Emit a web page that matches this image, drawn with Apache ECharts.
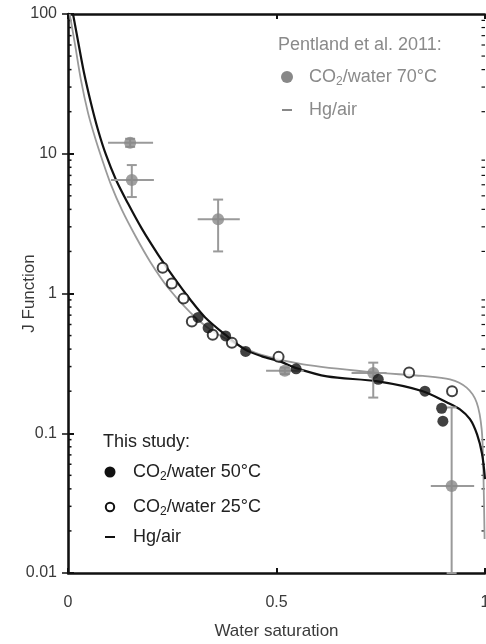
<!DOCTYPE html>
<html><head><meta charset="utf-8">
<script src="https://cdn.jsdelivr.net/npm/echarts@6/dist/echarts.min.js"></script>
<style>html,body{margin:0;padding:0;background:#fff}#c{width:486px;height:644px}</style>
</head><body><div id="c"></div>
<script>
// ---- data ----
const xTickValues = [0, 0.5, 1];
const yTickLabels = ['0.01', '0.1', '1', '10', '100'];

// This study, CO2/water 50°C (filled)
const s50Sw = [0.312, 0.336, 0.378, 0.426, 0.547, 0.744, 0.856, 0.896, 0.899];
const s50J  = [0.674, 0.568, 0.497, 0.385, 0.289, 0.243, 0.200, 0.151, 0.122];
// This study, CO2/water 25°C (open)
const s25Sw = [0.227, 0.249, 0.277, 0.297, 0.347, 0.393, 0.505, 0.818, 0.921];
const s25J  = [1.53, 1.18, 0.921, 0.631, 0.506, 0.444, 0.352, 0.272, 0.200];
// This study Hg/air curve
const hgSw = [0.012, 0.024, 0.038, 0.055, 0.072, 0.091, 0.115, 0.144, 0.177, 0.216, 0.257, 0.293, 0.329, 0.376, 0.424, 0.465, 0.508, 0.549, 0.621, 0.743, 0.851, 0.909, 0.940, 0.964, 0.981, 0.993, 1.0];
const hgJ  = [100, 64.1, 38.5, 23.1, 14.8, 9.84, 6.52, 4.40, 2.91, 1.90, 1.26, 0.906, 0.674, 0.510, 0.398, 0.355, 0.327, 0.291, 0.255, 0.235, 0.200, 0.166, 0.148, 0.126, 0.098, 0.071, 0.047];
// Pentland et al. 2011 Hg/air curve
const pHgSw = [0.004, 0.017, 0.031, 0.048, 0.065, 0.082, 0.103, 0.129, 0.161, 0.197, 0.240, 0.293, 0.341, 0.400, 0.460, 0.564, 0.731, 0.851, 0.916, 0.956, 0.980, 0.992, 0.996, 0.999];
const pHgJ  = [100, 60.1, 33.8, 19.6, 13.0, 9.06, 6.01, 3.98, 2.60, 1.69, 1.10, 0.732, 0.553, 0.44, 0.367, 0.311, 0.273, 0.257, 0.243, 0.212, 0.166, 0.107, 0.055, 0.0175];
// Pentland et al. 2011 CO2/water 70°C with error bars
const pSw   = [0.149, 0.153, 0.360, 0.520, 0.732, 0.920];
const pJ    = [12.0, 6.5, 3.4, 0.28, 0.27, 0.042];
const pSwLo = [0.096, 0.103, 0.311, 0.475, 0.680, 0.870];
const pSwHi = [0.204, 0.206, 0.412, 0.565, 0.764, 0.974];
const pJLo  = [11.2, 4.9, 2.0, 0.265, 0.18, 0.01];
const pJHi  = [12.8, 8.3, 4.7, 0.295, 0.32, 0.153];

// ---- build ----
const FONT = '"Liberation Sans", Arial, sans-serif';
const zip = (a, b) => a.map((v, i) => [v, b[i]]);
const minorTicks = [];
for (let e = -2; e < 2; e++) for (let m = 2; m <= 9; m++) minorTicks.push([0, m * Math.pow(10, e)]);

const chart = echarts.init(document.getElementById('c'), null, {renderer: 'canvas'});
const gray = '#8a8a8a';
const axisTextColor = '#3a3a3a';

const option = {
  animation: false,
  backgroundColor: '#fff',
  grid: {left: 68, right: 1, top: 14, bottom: 71, containLabel: false, outerBoundsMode: 'none'},
  xAxis: [{
    type: 'value', min: 0, max: 1, interval: 0.5, position: 'bottom',
    name: 'Water saturation', nameLocation: 'middle', nameGap: 50, nameMoveOverlap: false,
    nameTextStyle: {fontFamily: FONT, fontSize: 17, color: axisTextColor},
    axisLine: {show: true, lineStyle: {color: '#111', width: 2.5}},
    axisTick: {show: true, inside: true, length: 5, lineStyle: {color: '#111', width: 2}},
    axisLabel: {margin: 22, fontFamily: FONT, fontSize: 16, color: axisTextColor, hideOverlap: false,
      formatter: v => (xTickValues.indexOf(v) >= 0 ? String(v) : '')},
    splitLine: {show: false}
  }, {
    type: 'value', min: 0, max: 1, interval: 0.5, position: 'top',
    axisLine: {show: true, lineStyle: {color: '#111', width: 2.5}},
    axisTick: {show: true, inside: true, length: 5, lineStyle: {color: '#111', width: 2}},
    axisLabel: {show: false}, splitLine: {show: false}
  }],
  yAxis: [{
    type: 'log', logBase: 10, min: 0.01, max: 100, position: 'left',
    name: 'J Function', nameLocation: 'middle', nameGap: 30, nameRotate: 90, nameMoveOverlap: false,
    nameTextStyle: {fontFamily: FONT, fontSize: 17, color: axisTextColor},
    axisLine: {show: true, lineStyle: {color: '#111', width: 2.5}},
    axisTick: {show: true, inside: true, length: 6, lineStyle: {color: '#111', width: 2}},
    axisLabel: {margin: 11, fontFamily: FONT, fontSize: 16, color: axisTextColor, hideOverlap: false,
      formatter: v => { const s = String(+v.toPrecision(3)); return yTickLabels.indexOf(s) >= 0 ? s : ''; }},
    splitLine: {show: false}
  }, {
    type: 'log', logBase: 10, min: 0.01, max: 100, position: 'right',
    axisLine: {show: true, lineStyle: {color: '#111', width: 1.2}},
    axisTick: {show: true, inside: true, length: 6, lineStyle: {color: '#111', width: 1.5}},
    axisLabel: {show: false}, splitLine: {show: false}
  }],
  series: [
    { // minor log ticks on left and right spines
      type: 'custom', silent: true, clip: false, z: 1,
      data: minorTicks,
      renderItem: (params, api) => {
        const l = api.coord([0, api.value(1)]);
        const r = api.coord([1, api.value(1)]);
        return {type: 'group', children: [
          {type: 'line', shape: {x1: l[0], y1: l[1], x2: l[0] + 3.5, y2: l[1]}, style: {stroke: '#111', lineWidth: 1.5}},
          {type: 'line', shape: {x1: r[0], y1: r[1], x2: r[0] - 3.5, y2: r[1]}, style: {stroke: '#111', lineWidth: 1.2}}
        ]};
      }
    },
    {
      name: 'Pentland Hg/air', type: 'line', data: zip(pHgSw, pHgJ), smooth: 0.3,
      symbol: 'none', lineStyle: {color: '#9a9a9a', width: 1.8}, z: 2
    },
    {
      name: 'This study Hg/air', type: 'line', data: zip(hgSw, hgJ), smooth: 0.3,
      symbol: 'none', lineStyle: {color: '#111', width: 2.2}, z: 3
    },
    {
      name: 'Pentland error bars', type: 'custom', z: 4,
      data: pSw.map((v, i) => [v, pJ[i], pSwLo[i], pSwHi[i], pJLo[i], pJHi[i]]),
      renderItem: (params, api) => {
        const y = api.value(1), x = api.value(0);
        const l = api.coord([api.value(2), y]);
        const r = api.coord([api.value(3), y]);
        const b = api.coord([x, api.value(4)]);
        const t = api.coord([x, api.value(5)]);
        const st = {stroke: '#9a9a9a', lineWidth: 2};
        const cap = 5;
        return {type: 'group', children: [
          {type: 'line', shape: {x1: l[0], y1: l[1], x2: r[0], y2: r[1]}, style: st},
          {type: 'line', shape: {x1: t[0], y1: t[1], x2: b[0], y2: b[1]}, style: st},
          {type: 'line', shape: {x1: t[0] - cap, y1: t[1], x2: t[0] + cap, y2: t[1]}, style: st},
          {type: 'line', shape: {x1: b[0] - cap, y1: b[1], x2: b[0] + cap, y2: b[1]}, style: st}
        ]};
      }
    },
    {
      name: 'Pentland CO2/water 70°C', type: 'scatter', data: zip(pSw, pJ), z: 5,
      symbol: 'circle', symbolSize: 12, itemStyle: {color: '#888'}
    },
    {
      name: 'CO2/water 25°C', type: 'scatter', data: zip(s25Sw, s25J), z: 6,
      symbol: 'circle', symbolSize: 10, itemStyle: {color: '#fff', borderColor: '#111', borderWidth: 2}
    },
    {
      name: 'CO2/water 50°C', type: 'scatter', data: zip(s50Sw, s50J), z: 7,
      symbol: 'circle', symbolSize: 11, itemStyle: {color: '#111'}
    }
  ],
  graphic: []
};

const LFS = 18;
function legendText(x, y, text, color, rich) {
  return {type: 'text', z: 100, style: {x: x, y: y, text: text, fill: color, font: LFS + 'px ' + FONT,
    verticalAlign: 'middle', align: 'left', rich: rich}};
}
const richFor = color => ({
  a: {fontSize: LFS, fontFamily: FONT, color: color, verticalAlign: 'middle', lineHeight: 22},
  s: {fontSize: 12, fontFamily: FONT, color: color, verticalAlign: 'bottom', lineHeight: 22, padding: [13, 0, 0, 0]}
});
option.graphic = [
  legendText(278, 45, 'Pentland et al. 2011:', gray),
  {type: 'circle', z: 100, shape: {cx: 287, cy: 77, r: 6}, style: {fill: '#888'}},
  legendText(309, 77, '{a|CO}{s|2}{a|/water 70°C}', gray, richFor(gray)),
  {type: 'line', z: 100, shape: {x1: 282, y1: 110, x2: 292, y2: 110}, style: {stroke: '#888', lineWidth: 2}},
  legendText(309, 110, 'Hg/air', gray),

  legendText(103, 442, 'This study:', '#222'),
  {type: 'circle', z: 100, shape: {cx: 110, cy: 472, r: 5.5}, style: {fill: '#111'}},
  legendText(133, 472, '{a|CO}{s|2}{a|/water 50°C}', '#222', richFor('#222')),
  {type: 'circle', z: 100, shape: {cx: 110, cy: 507, r: 4.2}, style: {fill: '#fff', stroke: '#111', lineWidth: 2}},
  legendText(133, 507, '{a|CO}{s|2}{a|/water 25°C}', '#222', richFor('#222')),
  {type: 'line', z: 100, shape: {x1: 105, y1: 537, x2: 115, y2: 537}, style: {stroke: '#111', lineWidth: 2}},
  legendText(133, 537, 'Hg/air', '#222')
];

chart.setOption(option);
</script>
</body></html>
